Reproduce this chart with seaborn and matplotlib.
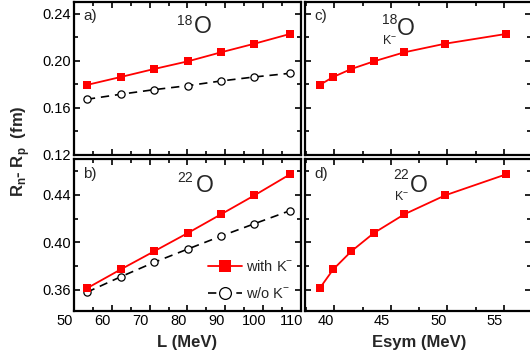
###############################################################################
###  Neutron skin vs L and Esym, with / without K- (four panels)           ###
###############################################################################

import matplotlib
matplotlib.use('Agg')
import matplotlib.pyplot as plt
from matplotlib.ticker import MultipleLocator, FormatStrFormatter
from matplotlib.transforms import ScaledTranslation
from matplotlib.lines import Line2D
import seaborn as sns
import pandas as pd

#------------------------------------------------------------------------------
### Data

L_values = [53.4, 62.4, 71.2, 80.1, 88.9, 97.7, 107.1]
Esym_values = [38.7, 39.9, 41.5, 43.5, 46.2, 49.8, 55.2]

skin_18O_with_K = [0.1796, 0.1864, 0.1932, 0.1997, 0.2074, 0.2147, 0.2230]
skin_18O_wo_K = [0.1674, 0.1717, 0.1756, 0.1790, 0.1830, 0.1864, 0.1895]
skin_22O_with_K = [0.3614, 0.3774, 0.3926, 0.4080, 0.4238, 0.4397, 0.4574]
skin_22O_wo_K = [0.3581, 0.3712, 0.3833, 0.3945, 0.4054, 0.4158, 0.4268]

panel_tags = ['a)', 'b)', 'c)', 'd)']

#------------------------------------------------------------------------------
### Style

RED = '#FF0000'
FIG_W, FIG_H = 530, 360

sns.set_style('ticks')
plt.rcParams['font.family'] = ['Liberation Sans', 'DejaVu Sans']
plt.rcParams['mathtext.fontset'] = 'custom'
plt.rcParams['mathtext.rm'] = 'Liberation Sans'
plt.rcParams['mathtext.bf'] = 'Liberation Sans:bold'


def px_axes(fig, left, top, right, bottom):
	# Axes placed by pixel box (top-left origin)
	return fig.add_axes([left / FIG_W, 1 - bottom / FIG_H,
		(right - left) / FIG_W, (bottom - top) / FIG_H])


def px_text(fig, x, y, s, **kwargs):
	# Text placed by pixel position (top-left origin)
	return fig.text(x / FIG_W, 1 - y / FIG_H, s, **kwargs)


def nucleus(fig, x_mass, y_mass_top, x_o, y_o_base, mass):
	# Mass number as a small separate text, then a large "O"
	px_text(fig, x_mass, y_mass_top, mass, fontsize=10, ha='left', va='top')
	px_text(fig, x_o, y_o_base, 'O', fontsize=16.5, ha='left',
		va='baseline')


def style_axes(ax, xmajor, xminor, show_x, show_y):
	for sp in ax.spines.values():
		sp.set_linewidth(1.6)
		sp.set_color('black')
	ax.xaxis.set_major_locator(MultipleLocator(xmajor))
	ax.xaxis.set_minor_locator(MultipleLocator(xminor))
	ax.yaxis.set_major_locator(MultipleLocator(0.04))
	ax.yaxis.set_minor_locator(MultipleLocator(0.02))
	ax.tick_params(which='both', direction='in', top=True, right=True,
		width=1.2, labelsize=10.5, pad=2, colors='black')
	ax.tick_params(which='major', length=4)
	ax.tick_params(which='minor', length=3)
	ax.tick_params(axis='x', labelbottom=show_x)
	ax.tick_params(axis='y', labelleft=show_y)
	ax.set_xlabel('')
	ax.set_ylabel('')


#------------------------------------------------------------------------------
### Figure

fig = plt.figure(figsize=(5.3, 3.6), dpi=100)

ax_a = px_axes(fig, 74, 1.5, 301, 155)
ax_b = px_axes(fig, 74, 159, 301, 311)
ax_c = px_axes(fig, 305, 1.5, 531, 155)
ax_d = px_axes(fig, 305, 159, 531, 311)

line_kw = dict(color=RED, marker='s', markersize=5.2, markeredgewidth=0,
	linewidth=1.3)
open_kw = dict(color='black', marker='o', markersize=5.2,
	markerfacecolor='white', markeredgecolor='black', markeredgewidth=0.9,
	linewidth=1.2, dashes=(5, 3.5))

# Left panels: versus L
for ax, with_k, wo_k in [(ax_a, skin_18O_with_K, skin_18O_wo_K),
		(ax_b, skin_22O_with_K, skin_22O_wo_K)]:
	df = pd.DataFrame({'L': L_values, 'with': with_k, 'wo': wo_k})
	sns.lineplot(data=df, x='L', y='wo', ax=ax, **open_kw)
	sns.lineplot(data=df, x='L', y='with', ax=ax, **line_kw)
	ax.set_xlim(50, 110)

# Right panels: versus Esym
for ax, with_k in [(ax_c, skin_18O_with_K), (ax_d, skin_22O_with_K)]:
	df = pd.DataFrame({'Esym': Esym_values, 'with': with_k})
	sns.lineplot(data=df, x='Esym', y='with', ax=ax, **line_kw)
	ax.set_xlim(37.4, 57.4)

ax_a.set_ylim(0.12, 0.2506)
ax_c.set_ylim(0.12, 0.2506)
ax_b.set_ylim(0.3423, 0.4703)
ax_d.set_ylim(0.3423, 0.4703)

style_axes(ax_a, 10, 5, False, True)
style_axes(ax_b, 10, 5, True, True)
style_axes(ax_c, 5, 2.5, False, False)
style_axes(ax_d, 5, 2.5, True, False)

ax_a.yaxis.set_major_formatter(FormatStrFormatter('%.2f'))
ax_b.yaxis.set_major_formatter(FormatStrFormatter('%.2f'))

# The original's x tick labels sit a little left of their ticks
shift = ScaledTranslation(-9 / 100, 0, fig.dpi_scale_trans)
for ax in [ax_b, ax_d]:
	for lab in ax.get_xticklabels():
		lab.set_transform(lab.get_transform() + shift)

# Panel tags
for ax, tag in zip([ax_a, ax_b, ax_c, ax_d], panel_tags):
	ax.text(0.04, 0.95, tag, transform=ax.transAxes, fontsize=11,
		ha='left', va='top')

# Nucleus labels
nucleus(fig, 177, 14, 194, 33, '18')
nucleus(fig, 177, 171, 196, 192, '22')
nucleus(fig, 382, 13, 397, 35, '18')
nucleus(fig, 393, 168, 410, 192, '22')
px_text(fig, 382, 44.5, r'K$^{-}$', fontsize=9, ha='left', va='baseline')
px_text(fig, 394, 200.5, r'K$^{-}$', fontsize=9, ha='left', va='baseline')

# Legend in panel b
handles = [
	Line2D([], [], **{**line_kw, 'markersize': 8.5}),
	Line2D([], [], **{**open_kw, 'markersize': 8.5}),
]
ax_b.legend(handles, [r'with K$^{-}$', r'w/o K$^{-}$'], loc='lower right',
	frameon=False, fontsize=10.5, handlelength=2.3, handletextpad=0.3,
	labelspacing=0.8, bbox_to_anchor=(1.025, -0.02))

# Axis labels
px_text(fig, 187, 342, 'L (MeV)', fontsize=12, fontweight='bold',
	ha='center', va='center')
px_text(fig, 419, 343, 'Esym (MeV)', fontsize=12, fontweight='bold',
	ha='center', va='center')
px_text(fig, 21, 151, r'R$_\mathbf{n}$- R$_\mathbf{p}$  (fm)', fontsize=12,
	fontweight='bold', rotation=90, ha='center', va='center')

fig.savefig('out.png', dpi=100)
plt.close(fig)
